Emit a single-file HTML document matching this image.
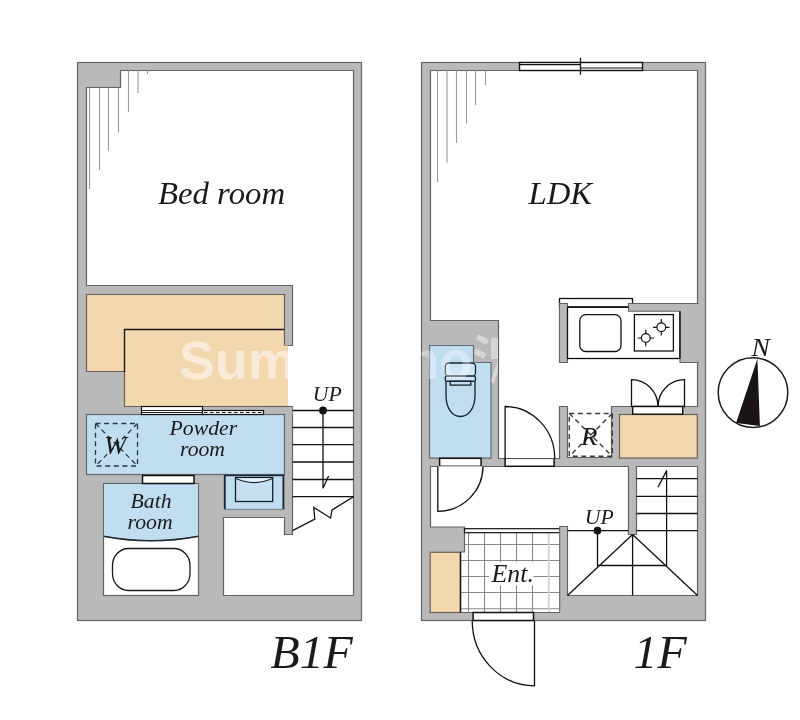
<!DOCTYPE html>
<html>
<head>
<meta charset="utf-8">
<style>
html,body{margin:0;padding:0;background:#fff;}
body{width:800px;height:720px;overflow:hidden;font-family:"Liberation Serif",serif;}
svg{display:block;will-change:transform;}
text{font-family:"Liberation Serif",serif;font-style:italic;fill:#1a1a1a;}
.wm{font-family:"Liberation Sans",sans-serif;font-style:normal;font-weight:bold;fill:#fff;fill-opacity:.5;}
</style>
</head>
<body>
<svg width="800" height="720" viewBox="0 0 800 720">
<rect x="0" y="0" width="800" height="720" fill="#ffffff"/>

<!-- ================= B1F ================= -->
<g id="b1f">
<rect x="77.5" y="62.5" width="284" height="558" fill="#bab9ba" stroke="#636363" stroke-width="1.2"/>
<!-- white areas -->
<path d="M120.5 70.5 H353.5 V595.5 H223.5 V517.5 H284.5 V534.5 H292.5 V406.5 H288 V345.5 H292.5 V285.5 H86.5 V87.5 H120.5 Z" fill="#fff"/>
<path d="M288 406.5 H292.5 V534.5 H284.5 V517.5 H223.5 V595.5 H353.5 V70.5 H120.5 V87.5 H86.5 V285.5 H292.5 V345.5 H284.5" fill="none" stroke="#636363" stroke-width="1.2"/>
<!-- hanger lines -->
<g stroke="#9c9c9c" stroke-width="1.1" fill="none">
<path d="M89.5 87.5V189 M99.5 87.5V170 M108.5 87.5V151 M118.5 87.5V132.5 M128.5 70.5V112 M138 70.5V93 M147.5 70.5V74"/>
</g>
<!-- closet peach -->
<path d="M86.5 294.5 H284.5 V345.5 H288 V406.5 H124.5 V371.5 H86.5 Z" fill="#f3d7ae"/>
<clipPath id="cp1"><path d="M86.5 294.5 H284.5 V345.5 H288 V406.5 H124.5 V371.5 H86.5 Z"/></clipPath>
<text class="wm" x="178.8" y="378.6" font-size="54" clip-path="url(#cp1)">Sum</text>
<path d="M288 406.5 H124.5 V371.5 H86.5 V294.5 H284.5 V345.5" fill="none" stroke="#6b6257" stroke-width="1.2"/>
<path d="M124.5 372 V329.5 H284.5" fill="none" stroke="#1a1a1a" stroke-width="1.4"/>
<!-- wall bottom of closet -->
<rect x="263.5" y="406.5" width="29" height="8" fill="#bab9ba"/>
<path d="M263.5 406.5H292.5" stroke="#636363" stroke-width="1.2"/>
<!-- powder room -->
<rect x="86.5" y="414.5" width="198" height="60" fill="#c1ddf0" stroke="#5f6a72" stroke-width="1.2"/>
<!-- sliding door -->
<rect x="141.5" y="406.5" width="61" height="8" fill="#fff" stroke="#111" stroke-width="1.2"/>
<path d="M141.5 410.5H202.5 M141.5 412.5H202.5" stroke="#111" stroke-width="0.9"/>
<rect x="202.5" y="410.5" width="61" height="4" fill="#fff" stroke="#111" stroke-width="1.2"/>
<path d="M204 412.5H263" stroke="#111" stroke-width="1.2" stroke-dasharray="3.5 2.5"/>
<!-- W box -->
<g stroke="#2b3946" stroke-width="1.3" fill="none" stroke-dasharray="5 3.6">
<rect x="95.5" y="423.5" width="42" height="42.5"/>
<path d="M95.5 423.5L137.5 466 M137.5 423.5L95.5 466"/>
</g>
<text transform="translate(104 454.4) scale(1.035 1)" font-size="26" fill="#15202b">W</text>
<text transform="translate(169.6 434.8) scale(1.035 1)" font-size="21" fill="#15202b">Powder</text>
<text transform="translate(180 456.4) scale(1.035 1)" font-size="21" fill="#15202b">room</text>
<!-- bath room -->
<rect x="103.5" y="483.5" width="95" height="112" fill="#fff" stroke="#636363" stroke-width="1.2"/>
<path d="M103.5 483.5 H198.5 V536.3 Q151 545.3 103.5 536.3 Z" fill="#c1ddf0" stroke="#5f6a72" stroke-width="1"/>
<path d="M103.5 536.3 Q151 545.3 198.5 536.3" fill="none" stroke="#1d2a36" stroke-width="1.4"/>
<rect x="112.5" y="548.5" width="77.5" height="42" rx="16" ry="17" fill="#fff" stroke="#1a1a1a" stroke-width="1.3"/>
<rect x="142.5" y="475.5" width="51.5" height="8" fill="#fff" stroke="#111" stroke-width="1.5"/>
<text transform="translate(130.5 507.6) scale(1.035 1)" font-size="21" fill="#15202b">Bath</text>
<text transform="translate(127.6 528.8) scale(1.035 1)" font-size="21" fill="#15202b">room</text>
<!-- sink cabinet -->
<rect x="224" y="474.8" width="60" height="34.4" fill="#c1ddf0"/>
<path d="M224.8 509.2 V475.4 H283.4 V509.2" fill="none" stroke="#1d2a36" stroke-width="1.9"/>
<path d="M224 509.3H284" stroke="#6f7a82" stroke-width="1"/>
<rect x="235.5" y="477.5" width="37.2" height="24" fill="#c6e0f2" stroke="#14202b" stroke-width="1.3"/>
<path d="M236 478.6 Q254 486.6 272.4 478.6" fill="#eef5fa" stroke="#14202b" stroke-width="1.1"/>
<!-- stairs -->
<g stroke="#111" stroke-width="1.3" fill="none">
<path d="M292.5 410.5H353.5 M292.5 427.5H353.5 M292.5 444.7H353.5 M292.5 462H353.5 M292.5 479.5H353.5 M292.5 496.6H353.5"/>
<path d="M323 410.5V488.3L328.6 476"/>
<path d="M353.5 496.8L332 510L330.6 518L313.8 507.5L314.8 519L292.5 530.6"/>
</g>
<circle cx="323" cy="410.5" r="3.9" fill="#111"/>
<text transform="translate(312.8 400.9) scale(1.035 1)" font-size="21">UP</text>
<text transform="translate(158 204) scale(1.04 1)" font-size="31.5">Bed room</text>
<text transform="translate(270.5 668) scale(1.04 1)" font-size="46">B1F</text>
</g>

<!-- ================= 1F ================= -->
<g id="f1">
<rect x="421.5" y="62.5" width="284" height="558" fill="#bab9ba" stroke="#636363" stroke-width="1.2"/>
<!-- LDK white -->
<path d="M430.5 70.5 H697.5 V406.5 H611.5 V457.5 H567.5 V406.5 H559.5 V458.5 H498.5 V320.5 H430.5 Z" fill="#fff" stroke="#636363" stroke-width="1.2"/>
<!-- hallway + stairs + entrance white -->
<path d="M430.5 466.5 H628.5 V534.5 H636.5 V466.5 H697.5 V595.5 H564 V612.5 H460.5 V552 H464.5 V527 H430.5 Z" fill="#fff" stroke="#636363" stroke-width="1.2"/>
<!-- hanger lines -->
<g stroke="#9c9c9c" stroke-width="1.1" fill="none">
<path d="M437.5 70.5V182 M447 70.5V162.5 M456.5 70.5V143 M466.5 70.5V123.5 M475.5 70.5V105 M485.5 70.5V85.2"/>
</g>
<!-- window -->
<rect x="519.5" y="62.5" width="123" height="8" fill="#fff" stroke="#111" stroke-width="1.4"/>
<path d="M519.5 64.6H580.5 M580.5 68H642.5" stroke="#111" stroke-width="1.1"/>
<path d="M580.5 57.7V74.8" stroke="#111" stroke-width="1.3"/>
<!-- kitchen -->
<rect x="559.5" y="298.5" width="73" height="8.7" fill="#fff" stroke="#111" stroke-width="1.3"/>
<rect x="559.5" y="303.5" width="8" height="59" fill="#bab9ba" stroke="#636363" stroke-width="1.1"/>
<rect x="567.5" y="307.2" width="112.5" height="51.3" fill="#fff" stroke="#111" stroke-width="1.3"/>
<path d="M628.5 303.5 H698 V362.5 H680 V311.3 H628.5 Z" fill="#bab9ba" stroke="#636363" stroke-width="1.1"/>
<rect x="697" y="304.2" width="2.2" height="57.6" fill="#bab9ba"/>
<path d="M680 311.3V358.5 M567.5 307.2H628.5" stroke="#111" stroke-width="1.3"/>
<rect x="579.8" y="314.6" width="41.2" height="36.9" rx="6" ry="6" fill="#fff" stroke="#111" stroke-width="1.3"/>
<rect x="634.4" y="314.6" width="39" height="36.4" fill="#fff" stroke="#111" stroke-width="1.3"/>
<g stroke="#111" stroke-width="1.2" fill="none">
<circle cx="661.3" cy="327.3" r="4.4"/>
<path d="M661.3 319.1V322.9 M661.3 331.7V335.5 M653.1 327.3H656.9 M665.7 327.3H669.5"/>
<circle cx="645.8" cy="338" r="4.4"/>
<path d="M645.8 329.8V333.6 M645.8 342.4V346.2 M637.6 338H641.4 M650.2 338H654"/>
</g>
<!-- closet doors (double) -->
<g stroke="#111" stroke-width="1.3" fill="#fff">
<path d="M631.5 406.5 V379.6 A26.6 27 0 0 1 658 406.5 Z"/>
<path d="M684.5 406.5 V379.6 A26.6 27 0 0 0 658 406.5 Z"/>
</g>
<!-- peach closet -->
<rect x="619.5" y="414.5" width="77.8" height="43.5" fill="#f3d7ae" stroke="#6b6257" stroke-width="1.2"/>
<rect x="632.7" y="406.5" width="50" height="7.7" fill="#fff" stroke="#111" stroke-width="1.4"/>
<!-- R box -->
<g stroke="#3a3a3a" stroke-width="1.4" fill="none" stroke-dasharray="5 3.6">
<rect x="569.3" y="413.5" width="43" height="42.8"/>
<path d="M569.3 413.5L612.3 456.3 M612.3 413.5L569.3 456.3"/>
</g>
<text transform="translate(581 444.8) scale(1.035 1)" font-size="26">R</text>
<!-- toilet room -->
<path d="M429.5 345.5 H473.5 V362.5 H491 V458.2 H429.5 Z" fill="#c1ddf0" stroke="#5f6a72" stroke-width="1.2"/>
<g stroke="#14202b" stroke-width="1.3" fill="#cfe5f4">
<path d="M446 381 V395 C446 408 452 416.5 460.4 416.5 C468.8 416.5 475 408 475 395 V381 Z" fill="#c1ddf0"/>
<rect x="445.3" y="363" width="30.2" height="13.2" rx="3.5" ry="3.5"/>
<rect x="445.3" y="376.2" width="30.2" height="5" rx="1.5" ry="1.5"/>
<rect x="450.2" y="381.3" width="20.6" height="3.8" fill="#c1ddf0"/>
</g>
<!-- watermark on toilet -->
<clipPath id="cp2"><rect x="421.5" y="320.5" width="77" height="146"/></clipPath>
<text class="wm" x="406.5" y="378.6" font-size="54" clip-path="url(#cp2)" style="fill-opacity:.33">no</text>
<g fill="#fff" fill-opacity=".42">
<path d="M478.5 334.5 L488.8 339.5 L486.2 344.8 L476 339.8 Z"/>
<path d="M476 348.5 L486.2 353.5 L483.6 358.8 L473.6 353.8 Z"/>
<path d="M491 338 H498 V359 H491 Z"/>
<path d="M498 360 L498 372 L493.5 384 L490.5 381 L494 371 Z"/>
</g>
<!-- toilet door -->
<rect x="439.6" y="458.3" width="41.5" height="8" fill="#fff" stroke="#111" stroke-width="1.5"/>
<path d="M437.8 466.3 V511.3 A45.2 45 0 0 0 483 466.3" fill="#fff" stroke="#111" stroke-width="1.3"/>
<!-- LDK door -->
<rect x="505.1" y="458.3" width="49" height="8" fill="#fff" stroke="#111" stroke-width="1.5"/>
<path d="M505.1 458.3 V406.5 A49.6 51.8 0 0 1 554.7 458.3" fill="#fff" stroke="#111" stroke-width="1.3"/>
<!-- entrance -->
<rect x="430.2" y="552.3" width="30.2" height="60.2" fill="#f3d7ae" stroke="#6b6257" stroke-width="1.2"/>
<g stroke="#8a8a8a" stroke-width="1.1" fill="none">
<path d="M468.5 533V612 M484.5 533V612 M500.5 533V612 M516.5 533V612 M532.5 533V612"/>
<path d="M465 544.5H559.5 M461 560.5H559.5 M461 576.5H559.5 M461 592.5H559.5 M461 608.7H559.5"/>
</g>
<path d="M548.8 533V612" stroke="#cfcfcf" stroke-width="1.6"/>
<rect x="489" y="562" width="44.5" height="23.5" fill="#fff"/>
<path d="M460.5 552V612.5" stroke="#111" stroke-width="1.4"/>
<rect x="464.5" y="528.7" width="95.3" height="4" fill="#fff" stroke="#111" stroke-width="1.2"/>
<text transform="translate(491.5 582.3) scale(1.035 1)" font-size="25">Ent.</text>
<!-- wall stubs -->
<rect x="559.7" y="526.5" width="7.8" height="90" fill="#bab9ba"/>
<path d="M559.7 612.5V526.5H567.5V595.5" fill="none" stroke="#636363" stroke-width="1.1"/>
<!-- front door -->
<rect x="473.1" y="612.5" width="60.4" height="8" fill="#fff" stroke="#111" stroke-width="1.5"/>
<path d="M534.5 620.5 V685.8 A62.3 65.3 0 0 1 472.2 620.5" fill="none" stroke="#111" stroke-width="1.3"/>
<!-- stairs -->
<g stroke="#111" stroke-width="1.3" fill="none">
<path d="M636.5 478.6H697.5 M636.5 496.4H697.5 M636.5 513.5H697.5"/>
<path d="M567.5 530.6H628.5 M636.5 530.6H697.5"/>
<path d="M597.5 530.6V565.5H666.6V470.6L658 487.2"/>
<path d="M632.6 534.5L567.5 595.5 M632.6 534.5L697.5 595.5 M632.6 534.5V595.5"/>
</g>
<circle cx="597.5" cy="530.6" r="3.9" fill="#111"/>
<text transform="translate(584.8 523.6) scale(1.035 1)" font-size="21">UP</text>
<text transform="translate(528.5 204) scale(1.04 1)" font-size="31.5">LDK</text>
<text transform="translate(633.5 668) scale(1.04 1)" font-size="46">1F</text>
</g>

<!-- compass -->
<g>
<circle cx="753" cy="392.6" r="34.8" fill="#fff" stroke="#1a1a1a" stroke-width="1.5"/>
<path d="M757.4 358.8 L736.1 422.9 L759.9 426.1 Z" fill="#1a1414"/>
<text transform="translate(751.6 356) scale(1.12 1)" font-size="24.5">N</text>
</g>
</svg>
</body>
</html>
